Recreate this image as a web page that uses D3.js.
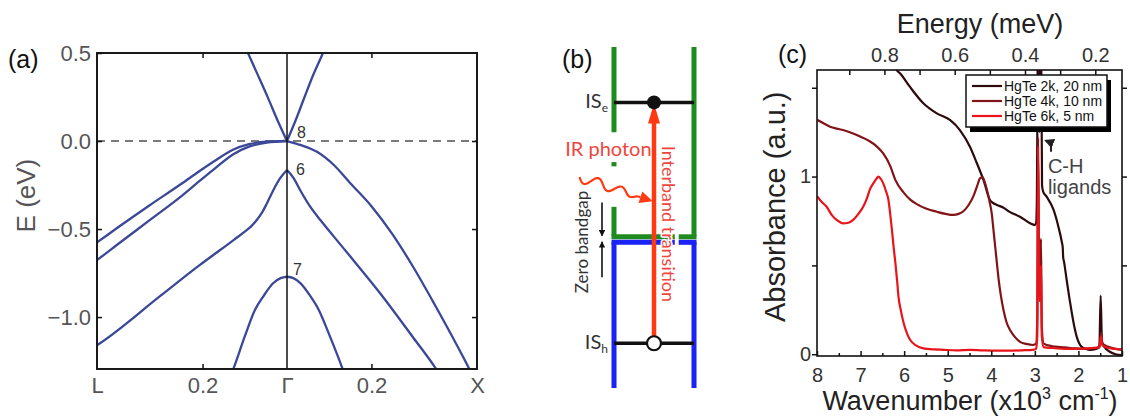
<!DOCTYPE html>
<html>
<head>
<meta charset="utf-8">
<script src="https://cdn.jsdelivr.net/npm/d3@7"></script>
<style>
  body { margin: 0; background: #fff; }
  svg { display: block; }
</style>
</head>
<body>
<svg id="fig" width="1130" height="416"></svg>
<script>
// ---------------- (a) HgTe band structure ----------------
// k in units of 2π/a (negative side runs toward L, positive toward X), E in eV
const kTicks = [-0.45, -0.2, 0, 0.2, 0.45];
const kTickLabels = ["L", "0.2", "Γ", "0.2", "X"];
const kMinorTicks = [-0.2, 0.2];
const eTicks = [0.5, 0, -0.5, -1.0];
const eTickLabels = ["0.5", "0.0", "−0.5", "−1.0"];

const cbLeft = [[-0.1, 0.54], [-0.07, 0.38], [-0.045, 0.245], [-0.022, 0.115], [0, 0]];
const cbRight = [[0, 0], [0.02, 0.115], [0.04, 0.24], [0.062, 0.375], [0.085, 0.5], [0.09, 0.53]];
const hh1Left = [[-0.46, -0.593], [-0.45, -0.576], [-0.4, -0.49], [-0.326, -0.366], [-0.25, -0.243],
  [-0.207, -0.17], [-0.167, -0.106], [-0.128, -0.05], [-0.09, -0.018], [-0.048, -0.004], [0, 0]];
const hh2Left = [[-0.46, -0.693], [-0.45, -0.676], [-0.4, -0.585], [-0.326, -0.451], [-0.25, -0.313],
  [-0.207, -0.227], [-0.167, -0.148], [-0.128, -0.076], [-0.09, -0.032], [-0.048, -0.009], [0, 0]];
const hhRight = [[0, 0], [0.033, -0.023], [0.071, -0.061], [0.111, -0.136], [0.15, -0.24], [0.2, -0.37],
  [0.25, -0.53], [0.3, -0.72], [0.35, -0.93], [0.42, -1.24], [0.435, -1.31]];
const lhLeft = [[-0.46, -1.175], [-0.45, -1.16], [-0.3, -0.88], [-0.207, -0.705], [-0.16, -0.622],
  [-0.125, -0.56], [-0.1, -0.515], [-0.085, -0.485], [-0.072, -0.45], [-0.06, -0.41], [-0.048, -0.356],
  [-0.033, -0.282], [-0.017, -0.214], [0, -0.165]];
const lhRight = [[0, -0.165], [0.016, -0.212], [0.031, -0.278], [0.055, -0.373], [0.079, -0.449],
  [0.111, -0.543], [0.15, -0.656], [0.221, -0.866], [0.3, -1.12], [0.349, -1.28], [0.36, -1.32]];
const soLeft = [[-0.135, -1.34], [-0.128, -1.3], [-0.1, -1.11], [-0.076, -0.96], [-0.056, -0.882],
  [-0.033, -0.808], [-0.015, -0.779], [0, -0.771]];
const soRight = [[0, -0.771], [0.015, -0.779], [0.031, -0.806], [0.055, -0.88], [0.075, -0.958],
  [0.1, -1.1], [0.131, -1.29], [0.137, -1.33]];
const bandLabels = [["8", 0], ["6", -0.165], ["7", -0.771]];

// ---------------- (b) schematic levels (arbitrary energy units) ----------------
const levelISe = 0.64;
const levelISh = -0.49;
const levelEdge = 0;

// ---------------- (c) absorbance spectra ----------------
// wavenumber in 10^3 cm^-1, absorbance in a.u.
const wnTicks = [8, 7, 6, 5, 4, 3, 2, 1];
const wnMinorTicks = [7.5, 6.5, 5.5, 4.5, 3.5, 2.5, 1.5];
const absTicks = [0, 0.5, 1, 1.5];
const absTickLabels = ["0", "", "1", ""];
const energyTicks = [0.9, 0.8, 0.7, 0.6, 0.5, 0.4, 0.3, 0.2];
const energyTickLabels = ["", "0.8", "", "0.6", "", "0.4", "", "0.2"];
const seriesNames = ["HgTe 2k, 20 nm", "HgTe 4k, 10 nm", "HgTe 6k, 5 nm"];
const seriesColors = ["#2e0a0e", "#821417", "#e8141a"];

const abs2k = [[6.22, 1.63], [6.17, 1.6], [6.09, 1.58], [5.87, 1.506], [5.56, 1.413], [5.25, 1.356],
  [4.95, 1.319], [4.72, 1.262], [4.49, 1.168], [4.33, 1.075], [4.18, 0.981], [4.03, 0.868],
  [3.95, 0.85], [3.87, 0.84], [3.72, 0.825], [3.57, 0.8], [3.34, 0.774], [3.11, 0.737], [3.0, 0.727],
  [2.97, 0.74], [2.955, 0.85], [2.925, 1.9], [2.89, 1.25], [2.86, 1.9], [2.835, 0.95], [2.81, 0.915],
  [2.73, 0.887], [2.57, 0.812], [2.46, 0.718], [2.38, 0.63], [2.36, 0.6], [2.35, 0.545], [2.33, 0.52],
  [2.27, 0.418], [2.21, 0.32], [2.15, 0.23], [2.09, 0.15], [2.04, 0.099], [1.98, 0.06], [1.93, 0.042],
  [1.83, 0.03], [1.73, 0.024], [1.6, 0.03], [1.52, 0.04], [1.49, 0.33], [1.46, 0.07], [1.4, 0.04],
  [1.28, 0.014], [1.15, 0.0], [1.0, -0.005]];
const abs4k = [[8.0, 1.32], [7.85, 1.3], [7.7, 1.281], [7.55, 1.27], [7.4, 1.262], [7.2, 1.245],
  [7.01, 1.225], [6.8, 1.2], [6.63, 1.17], [6.48, 1.13], [6.32, 1.06], [6.2, 0.98], [6.01, 0.91],
  [5.86, 0.87], [5.71, 0.845], [5.5, 0.82], [5.25, 0.802], [5.05, 0.79], [4.87, 0.784], [4.75, 0.79],
  [4.64, 0.805], [4.52, 0.84], [4.41, 0.89], [4.32, 0.95], [4.26, 0.99], [4.2, 0.995], [4.14, 0.96],
  [4.1, 0.925], [4.04, 0.86], [3.99, 0.793], [3.95, 0.7], [3.91, 0.605], [3.87, 0.51], [3.83, 0.418],
  [3.78, 0.33], [3.72, 0.249], [3.65, 0.18], [3.57, 0.136], [3.45, 0.095], [3.34, 0.07], [3.2, 0.058],
  [3.04, 0.052], [2.97, 0.06], [2.945, 0.2], [2.925, 1.22], [2.9, 0.4], [2.875, 0.45], [2.86, 0.65],
  [2.84, 0.15], [2.8, 0.06], [2.6, 0.045], [2.4, 0.04], [2.2, 0.035], [2.04, 0.033], [1.8, 0.03],
  [1.6, 0.035], [1.52, 0.04], [1.48, 0.12], [1.45, 0.06], [1.3, 0.04], [1.15, 0.03], [1.0, 0.025]];
const abs6k = [[8.0, 0.89], [7.9, 0.86], [7.78, 0.83], [7.65, 0.78], [7.55, 0.756], [7.4, 0.737],
  [7.28, 0.74], [7.17, 0.756], [7.05, 0.79], [6.94, 0.83], [6.85, 0.88], [6.79, 0.925], [6.7, 0.965],
  [6.63, 0.99], [6.59, 1.0], [6.53, 0.985], [6.48, 0.962], [6.42, 0.92], [6.36, 0.868], [6.32, 0.79],
  [6.28, 0.699], [6.24, 0.6], [6.2, 0.512], [6.16, 0.41], [6.13, 0.324], [6.07, 0.24], [6.01, 0.174],
  [5.93, 0.115], [5.86, 0.08], [5.72, 0.048], [5.56, 0.033], [5.3, 0.027], [5.1, 0.025], [4.8, 0.022],
  [4.5, 0.025], [4.2, 0.022], [3.9, 0.02], [3.6, 0.02], [3.3, 0.022], [3.05, 0.025], [2.97, 0.03],
  [2.945, 0.1], [2.925, 1.17], [2.9, 0.3], [2.875, 0.3], [2.86, 0.5], [2.84, 0.1], [2.8, 0.04],
  [2.6, 0.035], [2.3, 0.03], [2.0, 0.03], [1.7, 0.035], [1.52, 0.04], [1.48, 0.1], [1.45, 0.05],
  [1.3, 0.035], [1.15, 0.03], [1.0, 0.028]];
const spectra = [abs2k, abs4k, abs6k];

// photon energy (eV) of 1000 cm^-1
const EV_PER_KCM = 0.12398;

const SANS = "'Liberation Sans', Arial, Helvetica, sans-serif";
const HUMAN = "Lato, 'Open Sans', sans-serif";

const svg = d3.select("#fig");
svg.append("rect").attr("width", 1130).attr("height", 416).attr("fill", "#fff");
const defs = svg.append("defs");

function styleAxis(g, size, color) {
  g.attr("font-family", SANS).attr("font-size", size);
  g.select(".domain").remove();
  g.selectAll("text").attr("fill", color);
  g.selectAll(".tick line").attr("stroke", "#111").attr("stroke-width", 1.5);
}

function panelLabel(x, y, txt) {
  svg.append("text").attr("x", x).attr("y", y).attr("font-family", SANS)
    .attr("font-size", 25).attr("fill", "#111").text(txt);
}

// =============== panel (a) ===============
const xa = d3.scaleLinear().domain([-0.45, 0.45]).range([97, 477]);
const ya = d3.scaleLinear().domain([0.5, -1.295]).range([53, 369]);
const gA = svg.append("g");

defs.append("clipPath").attr("id", "clipA").append("rect")
  .attr("x", xa(-0.45)).attr("y", ya(0.5))
  .attr("width", xa(0.45) - xa(-0.45)).attr("height", ya(-1.295) - ya(0.5));

// Fermi level
gA.append("line").attr("x1", xa(-0.45)).attr("x2", xa(0.45))
  .attr("y1", ya(0)).attr("y2", ya(0))
  .attr("stroke", "#7b7b7b").attr("stroke-width", 2).attr("stroke-dasharray", "8,6");

const bandLine = d3.line().x(d => xa(d[0])).y(d => ya(d[1])).curve(d3.curveMonotoneX);
gA.append("g").attr("clip-path", "url(#clipA)")
  .selectAll("path")
  .data([cbLeft, cbRight, hh1Left, hh2Left, hhRight, lhLeft, lhRight, soLeft, soRight])
  .join("path")
  .attr("d", bandLine)
  .attr("fill", "none").attr("stroke", "#3a4897").attr("stroke-width", 2.3)
  .attr("stroke-linejoin", "round");

// Γ line
gA.append("line").attr("x1", xa(0)).attr("x2", xa(0)).attr("y1", ya(0.5)).attr("y2", ya(-1.295))
  .attr("stroke", "#111").attr("stroke-width", 1.5);

// frame
gA.append("rect").attr("x", xa(-0.45)).attr("y", ya(0.5))
  .attr("width", xa(0.45) - xa(-0.45)).attr("height", ya(-1.295) - ya(0.5))
  .attr("fill", "none").attr("stroke", "#1a1a1a").attr("stroke-width", 2);

// axes
const axALeft = gA.append("g").attr("transform", `translate(${xa(-0.45)},0)`)
  .call(d3.axisLeft(ya).tickValues(eTicks).tickFormat((d, i) => eTickLabels[i])
    .tickSizeInner(-5).tickSizeOuter(0).tickPadding(6));
styleAxis(axALeft, 22, "#555");
const axARight = gA.append("g").attr("transform", `translate(${xa(0.45)},0)`)
  .call(d3.axisRight(ya).tickValues(eTicks.slice(1)).tickFormat("").tickSizeInner(-5).tickSizeOuter(0));
styleAxis(axARight, 22, "#555");
const axABottom = gA.append("g").attr("transform", `translate(0,${ya(-1.295)})`)
  .call(d3.axisBottom(xa).tickValues(kTicks).tickFormat((d, i) => kTickLabels[i])
    .tickSizeInner(0).tickSizeOuter(0).tickPadding(8));
styleAxis(axABottom, 22, "#555");
const axABottomMinor = gA.append("g").attr("transform", `translate(0,${ya(-1.295)})`)
  .call(d3.axisBottom(xa).tickValues(kMinorTicks).tickFormat("").tickSizeInner(-5).tickSizeOuter(0));
styleAxis(axABottomMinor, 22, "#555");
const axATop = gA.append("g").attr("transform", `translate(0,${ya(0.5)})`)
  .call(d3.axisTop(xa).tickValues(kMinorTicks).tickFormat("").tickSizeInner(-5).tickSizeOuter(0));
styleAxis(axATop, 22, "#555");

gA.append("text").attr("transform", `translate(35,${ya(-0.31)}) rotate(-90)`)
  .attr("text-anchor", "middle").attr("font-family", SANS).attr("font-size", 26)
  .attr("fill", "#555").text("E (eV)");

gA.selectAll(".bandlab").data(bandLabels).join("text")
  .attr("class", "bandlab")
  .attr("x", (d, i) => xa(0) + [10, 9, 6][i])
  .attr("y", (d, i) => ya(d[1]) + [-3, 5, -2][i])
  .attr("font-family", SANS).attr("font-size", 16).attr("fill", "#333")
  .text(d => d[0]);

panelLabel(8, 68, "(a)");

// =============== panel (b) ===============
const xb = d3.scaleLinear().domain([0, 1]).range([614, 694]);
const yb = d3.scaleLinear().domain([0.9, -0.7]).range([47, 388]);
const gB = svg.append("g");
const GREEN = "#1f8a1f", BLUE = "#1a22f5", RED = "#ff3a12", RED_TXT = "#f0463c";

// conduction-band well walls (green), broken where the photon label and arrow cross
const greenLeftSegs = [[0.9, 0.5], [0.36, 0.34], [0.15, 0.012]];
gB.selectAll(".gl").data(greenLeftSegs).join("line").attr("class", "gl")
  .attr("x1", xb(0)).attr("x2", xb(0)).attr("y1", d => yb(d[0])).attr("y2", d => yb(d[1]))
  .attr("stroke", GREEN).attr("stroke-width", 5);
gB.append("line").attr("x1", xb(1)).attr("x2", xb(1)).attr("y1", yb(0.9)).attr("y2", yb(0.012))
  .attr("stroke", GREEN).attr("stroke-width", 5);
// band edges
const edgeSegs = [[0, 0.76], [0.84, 1]];
gB.selectAll(".ge").data(edgeSegs).join("line").attr("class", "ge")
  .attr("x1", d => xb(d[0]) - 2.5).attr("x2", d => xb(d[1]) + (d[1] === 1 ? 2.5 : 0))
  .attr("y1", yb(levelEdge) - 2).attr("y2", yb(levelEdge) - 2)
  .attr("stroke", GREEN).attr("stroke-width", 5);
gB.selectAll(".be").data(edgeSegs).join("line").attr("class", "be")
  .attr("x1", d => xb(d[0]) - 2.5).attr("x2", d => xb(d[1]) + (d[1] === 1 ? 2.5 : 0))
  .attr("y1", yb(levelEdge) + 3.5).attr("y2", yb(levelEdge) + 3.5)
  .attr("stroke", BLUE).attr("stroke-width", 5);
// valence-band walls (blue)
gB.selectAll(".bw").data([0, 1]).join("line").attr("class", "bw")
  .attr("x1", d => xb(d)).attr("x2", d => xb(d))
  .attr("y1", yb(levelEdge) + 3.5).attr("y2", yb(-0.7))
  .attr("stroke", BLUE).attr("stroke-width", 5);

// quantized levels
gB.selectAll(".lev").data([levelISe, levelISh]).join("line").attr("class", "lev")
  .attr("x1", xb(0)).attr("x2", xb(1)).attr("y1", d => yb(d)).attr("y2", d => yb(d))
  .attr("stroke", "#111").attr("stroke-width", 3.5);

// interband transition arrow
const xMid = xb(0.5);
gB.append("line").attr("x1", xMid).attr("x2", xMid)
  .attr("y1", yb(levelISh)).attr("y2", yb(levelISe) + 16)
  .attr("stroke", RED).attr("stroke-width", 4.5);
gB.append("path")
  .attr("d", `M${xMid},${yb(levelISe) + 1} L${xMid - 6},${yb(levelISe) + 21} L${xMid + 6},${yb(levelISe) + 21} Z`)
  .attr("fill", RED);
// electron (filled) and hole (open)
gB.append("circle").attr("cx", xMid).attr("cy", yb(levelISe)).attr("r", 7).attr("fill", "#111");
gB.append("circle").attr("cx", xMid).attr("cy", yb(levelISh)).attr("r", 7)
  .attr("fill", "#fff").attr("stroke", "#111").attr("stroke-width", 2.2);

// wavy IR photon arrow
const w0 = [xb(-0.43), yb(0.29)], w1 = [xb(0.33), yb(0.195)];
const wdx = w1[0] - w0[0], wdy = w1[1] - w0[1], wlen = Math.hypot(wdx, wdy);
const ux = wdx / wlen, uy = wdy / wlen;
const wavePts = d3.range(0, 1.0001, 0.02).map(t => {
  const amp = t < 0.8 ? 5.5 * (1 - 0.35 * t) : 5.5 * 0.72 * (1 - (t - 0.8) / 0.2);
  const off = amp * Math.sin(t * 2.6 * 2 * Math.PI);
  return [w0[0] + ux * wlen * t - uy * off, w0[1] + uy * wlen * t + ux * off];
});
gB.append("path").attr("d", d3.line().curve(d3.curveBasis)(wavePts))
  .attr("fill", "none").attr("stroke", RED).attr("stroke-width", 2.2);
const tip = [w1[0] + ux * 13, w1[1] + uy * 13];
gB.append("path")
  .attr("d", `M${tip[0]},${tip[1]} L${w1[0] - uy * 6},${w1[1] + ux * 6} L${w1[0] + uy * 6},${w1[1] - ux * 6} Z`)
  .attr("fill", RED);

// zero-bandgap arrows
const xz = xb(-0.15);
defs.append("marker").attr("id", "arrBlk").attr("viewBox", "0 0 10 10").attr("refX", 9).attr("refY", 5)
  .attr("markerWidth", 4).attr("markerHeight", 4).attr("orient", "auto-start-reverse")
  .append("path").attr("d", "M0,0 L10,5 L0,10 Z").attr("fill", "#111");
gB.append("line").attr("x1", xz).attr("x2", xz).attr("y1", yb(0.17)).attr("y2", yb(levelEdge) - 3)
  .attr("stroke", "#111").attr("stroke-width", 1.6).attr("marker-end", "url(#arrBlk)");
gB.append("line").attr("x1", xz).attr("x2", xz).attr("y1", yb(-0.18)).attr("y2", yb(levelEdge) + 3)
  .attr("stroke", "#111").attr("stroke-width", 1.6).attr("marker-end", "url(#arrBlk)");

// labels
function isLabel(level, sub) {
  const t = gB.append("text").attr("x", xb(0) - 6).attr("y", yb(level) + 6)
    .attr("text-anchor", "end").attr("font-family", HUMAN).attr("font-size", 20).attr("fill", "#333");
  t.append("tspan").text("IS");
  t.append("tspan").attr("font-size", 12).attr("dy", 4).text(sub);
}
isLabel(levelISe, "e");
isLabel(levelISh, "h");

gB.append("text").attr("x", xb(-0.61)).attr("y", yb(0.39))
  .attr("font-family", HUMAN).attr("font-size", 20).attr("fill", RED_TXT).text("IR photon");
gB.append("text").attr("transform", `translate(${xb(0.6)},${yb(0.07)}) rotate(90)`)
  .attr("text-anchor", "middle").attr("font-family", HUMAN).attr("font-size", 18)
  .attr("fill", RED_TXT).attr("stroke", "#fff").attr("stroke-width", 3)
  .attr("paint-order", "stroke").attr("stroke-linejoin", "round")
  .text("Interband transition");
gB.append("text").attr("transform", `translate(${xb(-0.33)},${yb(-0.015)}) rotate(-90)`)
  .attr("text-anchor", "middle").attr("font-family", HUMAN).attr("font-size", 17)
  .attr("fill", "#333").text("Zero bandgap");

panelLabel(562, 68, "(b)");

// =============== panel (c) ===============
const xc = d3.scaleLinear().domain([8, 1]).range([817, 1122]);
const yc = d3.scaleLinear().domain([-0.01, 1.6]).range([356, 70]);
const gC = svg.append("g");

defs.append("clipPath").attr("id", "clipC").append("rect")
  .attr("x", xc(8)).attr("y", yc(1.6)).attr("width", xc(1) - xc(8)).attr("height", yc(-0.01) - yc(1.6));

const specLine = d3.line().x(d => xc(d[0])).y(d => yc(d[1])).curve(d3.curveMonotoneX);
gC.append("g").attr("clip-path", "url(#clipC)")
  .selectAll("path").data(spectra).join("path")
  .attr("d", specLine).attr("fill", "none")
  .attr("stroke", (d, i) => seriesColors[i]).attr("stroke-width", 2.2)
  .attr("stroke-linejoin", "round");

gC.append("rect").attr("x", xc(8)).attr("y", yc(1.6))
  .attr("width", xc(1) - xc(8)).attr("height", yc(-0.01) - yc(1.6))
  .attr("fill", "none").attr("stroke", "#111").attr("stroke-width", 1.6);

const axCBottom = gC.append("g").attr("transform", `translate(0,${yc(-0.01)})`)
  .call(d3.axisBottom(xc).tickValues(wnTicks).tickFormat(d3.format("d"))
    .tickSizeInner(-5).tickSizeOuter(0).tickPadding(12));
styleAxis(axCBottom, 20, "#333");
const axCBottomMinor = gC.append("g").attr("transform", `translate(0,${yc(-0.01)})`)
  .call(d3.axisBottom(xc).tickValues(wnMinorTicks).tickFormat("").tickSizeInner(-3).tickSizeOuter(0));
styleAxis(axCBottomMinor, 20, "#333");
const axCLeft = gC.append("g").attr("transform", `translate(${xc(8)},0)`)
  .call(d3.axisLeft(yc).tickValues(absTicks).tickFormat((d, i) => absTickLabels[i])
    .tickSizeInner(5).tickSizeOuter(0).tickPadding(1));
styleAxis(axCLeft, 20, "#333");
const axCRight = gC.append("g").attr("transform", `translate(${xc(1)},0)`)
  .call(d3.axisRight(yc).tickValues(absTicks.slice(1)).tickFormat("").tickSizeInner(5).tickSizeOuter(0));
styleAxis(axCRight, 20, "#333");
const axCTop = gC.append("g").attr("transform", `translate(0,${yc(1.6)})`)
  .call(d3.axisTop(xc).tickValues(energyTicks.map(e => e / EV_PER_KCM))
    .tickFormat((d, i) => energyTickLabels[i]).tickSizeInner(-5).tickSizeOuter(0).tickPadding(8));
styleAxis(axCTop, 20, "#333");

// axis titles
gC.append("text").attr("x", 980).attr("y", 33).attr("text-anchor", "middle")
  .attr("font-family", SANS).attr("font-size", 27).attr("fill", "#222").text("Energy (meV)");
const wt = gC.append("text").attr("x", 970).attr("y", 410).attr("text-anchor", "middle")
  .attr("font-family", SANS).attr("font-size", 27).attr("fill", "#222");
wt.append("tspan").text("Wavenumber (x10");
wt.append("tspan").attr("font-size", 16).attr("dy", -11).text("3");
wt.append("tspan").attr("dy", 11).text(" cm");
wt.append("tspan").attr("font-size", 16).attr("dy", -11).text("-1");
wt.append("tspan").attr("dy", 11).text(")");
gC.append("text").attr("transform", `translate(785,${yc(0.83)}) rotate(-90)`)
  .attr("text-anchor", "middle").attr("font-family", SANS).attr("font-size", 29)
  .attr("fill", "#222").text("Absorbance (a.u.)");

// legend
const lg = gC.append("g").attr("transform", "translate(966,75)");
lg.append("rect").attr("x", 4).attr("y", 5).attr("width", 141).attr("height", 52).attr("fill", "#000");
lg.append("rect").attr("x", 0).attr("y", 0).attr("width", 141).attr("height", 52)
  .attr("fill", "#fff").attr("stroke", "#111").attr("stroke-width", 1.5);
const lgRows = lg.selectAll(".row").data(seriesNames).join("g").attr("class", "row")
  .attr("transform", (d, i) => `translate(0,${11 + i * 15})`);
lgRows.append("line").attr("x1", 6).attr("x2", 36).attr("stroke", (d, i) => seriesColors[i])
  .attr("stroke-width", 2.2);
lgRows.append("text").attr("x", 38).attr("dy", "0.35em").attr("font-family", SANS)
  .attr("font-size", 14).attr("fill", "#111").text(d => d);

// C-H ligand annotation
defs.append("marker").attr("id", "arrCH").attr("viewBox", "0 0 10 10").attr("refX", 8).attr("refY", 5)
  .attr("markerWidth", 5).attr("markerHeight", 5).attr("orient", "auto")
  .append("path").attr("d", "M0,0 L10,5 L0,10 Z").attr("fill", "#222");
const chX = xc(2.63), chY = yc(1.14);
gC.append("path")
  .attr("d", `M${chX},${chY} L${chX},${chY - 6} Q${chX},${chY - 9} ${chX - 5},${chY - 11}`)
  .attr("fill", "none").attr("stroke", "#222").attr("stroke-width", 2)
  .attr("marker-end", "url(#arrCH)");
gC.append("text").attr("x", xc(2.7)).attr("y", yc(1.02)).attr("font-family", SANS)
  .attr("font-size", 20).attr("fill", "#444").text("C-H");
gC.append("text").attr("x", xc(2.7)).attr("y", yc(0.9)).attr("font-family", SANS)
  .attr("font-size", 20).attr("fill", "#444").text("ligands");

panelLabel(778, 63, "(c)");
</script>
</body>
</html>
